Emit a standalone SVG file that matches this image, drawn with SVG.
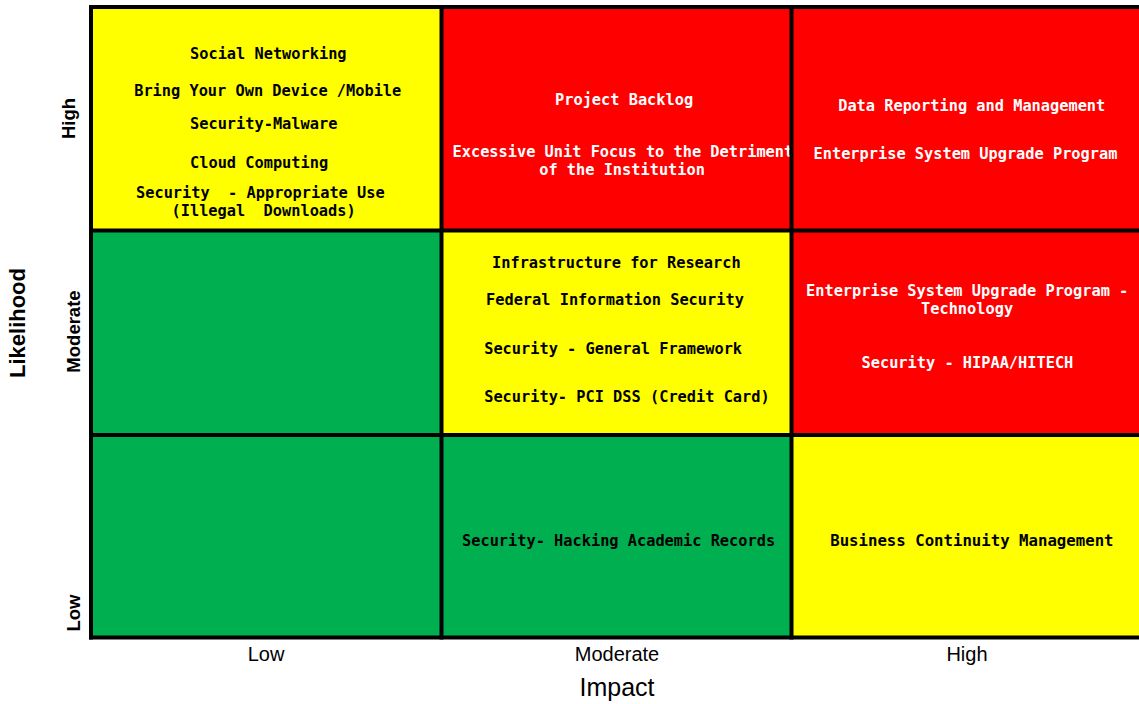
<svg xmlns="http://www.w3.org/2000/svg" width="1139" height="704" viewBox="0 0 1139 704">
<style>
.y{fill:#FFFF00}.r{fill:#FF0000}.g{fill:#00B050}
.t{font-family:"DejaVu Sans Mono","Liberation Mono",monospace;font-weight:bold;font-size:15.3px;white-space:pre}
.tb{fill:#000}.tw{fill:#FFF}
.ax{font-family:"Liberation Sans",Arial,sans-serif;fill:#000;text-anchor:middle}
.grid{stroke:#000;stroke-width:4;fill:none}
</style>
<rect width="1139" height="704" fill="#FFF"/>
<g id="cell-high-low"><rect class="y" x="91" y="7" width="350.5" height="223.5"/>
<text class="t tb" x="190" y="59">Social Networking</text>
<text class="t tb" x="134.2" y="96">Bring Your Own Device /Mobile</text>
<text class="t tb" x="190" y="129">Security-Malware</text>
<text class="t tb" x="190" y="168">Cloud Computing</text>
<text class="t tb" x="136" y="198" xml:space="preserve">Security  - Appropriate Use</text>
<text class="t tb" x="171.5" y="216" xml:space="preserve">(Illegal  Downloads)</text>
</g>
<g id="cell-high-moderate"><rect class="r" x="441.5" y="7" width="350" height="223.5"/>
<text class="t tw" x="555" y="104.5">Project Backlog</text>
<text class="t tw" x="452.5" y="157">Excessive Unit Focus to the Detriment</text>
<text class="t tw" x="539.2" y="175">of the Institution</text>
</g>
<g id="cell-high-high"><rect class="r" x="791.5" y="7" width="350" height="223.5"/>
<text class="t tw" x="838.2" y="111">Data Reporting and Management</text>
<text class="t tw" x="813.5" y="159">Enterprise System Upgrade Program</text>
</g>
<g id="cell-moderate-low"><rect class="g" x="91" y="230.5" width="350.5" height="204.5"/></g>
<g id="cell-moderate-moderate"><rect class="y" x="441.5" y="230.5" width="350" height="204.5"/>
<text class="t tb" x="492" y="268">Infrastructure for Research</text>
<text class="t tb" x="486" y="305">Federal Information Security</text>
<text class="t tb" x="484.2" y="354">Security - General Framework</text>
<text class="t tb" x="484.2" y="402">Security- PCI DSS (Credit Card)</text>
</g>
<g id="cell-moderate-high"><rect class="r" x="791.5" y="230.5" width="350" height="204.5"/>
<text class="t tw" x="806" y="296">Enterprise System Upgrade Program -</text>
<text class="t tw" x="921" y="314">Technology</text>
<text class="t tw" x="861.5" y="368">Security - HIPAA/HITECH</text>
</g>
<g id="cell-low-low"><rect class="g" x="91" y="435" width="350.5" height="202.5"/></g>
<g id="cell-low-moderate"><rect class="g" x="441.5" y="435" width="350" height="202.5"/>
<text class="t tb" x="462" y="546">Security- Hacking Academic Records</text>
</g>
<g id="cell-low-high"><rect class="y" x="791.5" y="435" width="350" height="202.5"/>
<text class="t tb" x="830.2" y="546" style="font-size:15.7px">Business Continuity Management</text>
</g>
<g id="grid" class="grid">
<path d="M89 7H1141M89 230.5H1141M89 435H1141M89 637.5H1141"/>
<path d="M91 5V639.5M441.5 5V639.5M791.5 5V639.5"/>
</g>
<g id="axis-likelihood">
<text class="ax" font-size="22" font-weight="bold" transform="translate(25,323) rotate(-90)">Likelihood</text>
<text class="ax" font-size="18.5" font-weight="bold" transform="translate(74.5,118.5) rotate(-90)">High</text>
<text class="ax" font-size="18.5" font-weight="bold" transform="translate(80,331.5) rotate(-90)">Moderate</text>
<text class="ax" font-size="18.5" font-weight="bold" transform="translate(80,613) rotate(-90)">Low</text>
</g>
<g id="axis-impact">
<text class="ax" font-size="20" x="266" y="661">Low</text>
<text class="ax" font-size="20" x="617" y="661">Moderate</text>
<text class="ax" font-size="20" x="967" y="661">High</text>
<text class="ax" font-size="25" x="617" y="696">Impact</text>
</g>
</svg>
